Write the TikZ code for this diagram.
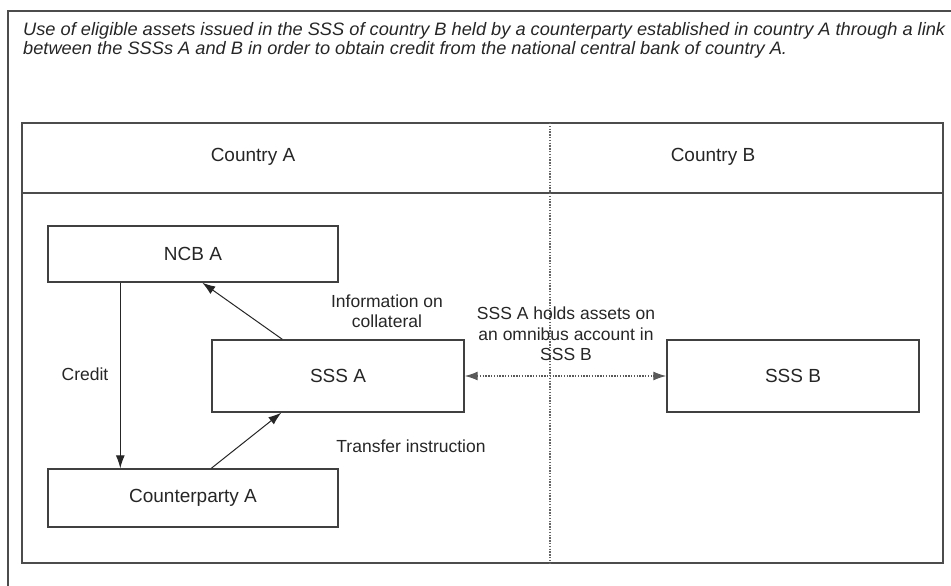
\documentclass[tikz,border=0pt]{standalone}
\usepackage{fontspec}
\setmainfont{Liberation Sans}
\usepackage{graphicx}
\usetikzlibrary{arrows.meta}
\tikzset{
  box/.style={draw=black!75, line width=1.4pt, rectangle, inner sep=0pt, font=\fontsize{19}{22}\selectfont, text=black!85},
  lbl/.style={font=\fontsize{17.5}{21}\selectfont, text=black!85, align=center, inner sep=0pt},
  frame/.style={draw=black!70, line width=1.4pt},
  arr/.style={draw=black!85, line width=1pt, -{Latex[length=13pt,width=9pt]}},
  dotarr/.style={draw=black!65, line width=1.3pt, dash pattern=on 1.3pt off 1.5pt, {Latex[length=13pt,width=9pt]}-{Latex[length=13pt,width=9pt]}},
}
\begin{document}
\begin{tikzpicture}[x=1pt,y=-1pt]
\useasboundingbox (0,0) rectangle (951,586);
% outer frame (open to the right and bottom)
\draw[frame] (951,11) -- (8,11) -- (8,586);
% title
\node[anchor=north west, inner sep=0pt, text=black!85] (title) at (23,22)
  {\resizebox*{922pt}{\totalheight}{\fontsize{18}{19}\selectfont\itshape
   \begin{tabular}{@{}l@{}}Use of eligible assets issued in the SSS of country B held by a counterparty established in country A through a link\\
   between the SSSs A and B in order to obtain credit from the national central bank of country A.\end{tabular}}};
% inner frame
\draw[frame] (22,123) rectangle (943,563);
\draw[frame] (22,193) -- (943,193);
\draw[draw=black!60, line width=1.3pt, dash pattern=on 1.3pt off 1.5pt] (550,123) -- (550,563);
% headers
\node[lbl, font=\fontsize{19}{22}\selectfont] (ca) at (253,157) {Country A};
\node[lbl, font=\fontsize{19}{22}\selectfont] (cb) at (713,157) {Country B};
% boxes
\node[box, minimum width=290pt, minimum height=56pt] (ncb) at (193,254) {NCB A};
\node[box, minimum width=252pt, minimum height=72pt] (sssa) at (338,376) {SSS A};
\node[box, minimum width=252pt, minimum height=72pt] (sssb) at (793,376) {SSS B};
\node[box, minimum width=290pt, minimum height=58pt] (cp) at (193,498) {Counterparty A};
% connectors
\draw[arr] ([xshift=73pt]ncb.south west) -- ([xshift=73pt]cp.north west);
\draw[arr] ([xshift=71pt]sssa.north west) -- ([xshift=155pt]ncb.south west);
\draw[arr] ([xshift=164pt]cp.north west) -- ([xshift=70pt]sssa.south west);
\draw[dotarr] (sssa.east) -- (sssb.west);
% labels
\node[lbl] (lcredit) at (85,374) {Credit};
\node[lbl] (linfo) at (387,311) {Information on\\[-0.5pt]collateral};
\node[lbl] (lhold) at (566,334) {SSS A holds assets on\\[-0.5pt]an omnibus account in\\[-0.5pt]SSS B};
\node[lbl] (ltrans) at (411,446) {Transfer instruction};
\end{tikzpicture}
\end{document}
